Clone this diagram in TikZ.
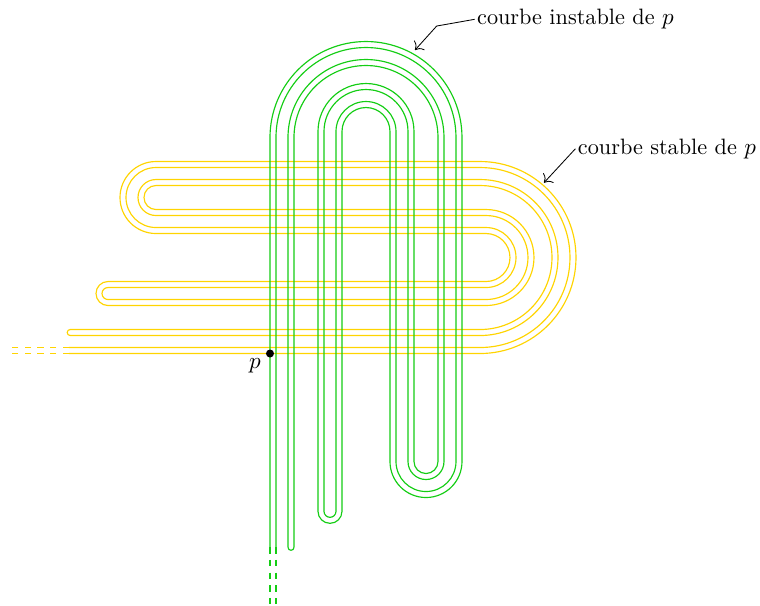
\documentclass[tikz,border=0pt]{standalone}
\usepackage{amsmath}
\usepackage{xcolor}
\usepackage{tikz}
\usetikzlibrary{arrows.meta}
\definecolor{vert}{RGB}{20,205,20}
\definecolor{jaune}{RGB}{255,212,0}
\tikzset{
  instable/.style={vert,line width=0.55pt},
  stable/.style={jaune,line width=0.55pt},
  pointer/.style={-{To[scale=1.3]},line width=0.4pt},
}

\begin{document}
\begin{tikzpicture}[x=1cm,y=1cm,font=\fontsize{10.55}{12.6}\selectfont]
  \useasboundingbox (-4.55,-4.242) rectangle (8.117,5.842);
  % courbe stable (jaune), two parallel strokes
  \foreach \s in {-1,1} {
    \draw[stable]
      (-3.4,{0.05*\s}) -- (3.45,{0.05*\s})
      arc[start angle=-90,end angle=90,radius={1.55-0.05*\s}]
      -- (-1.95,{3.1-0.05*\s})
      arc[start angle=90,end angle=270,radius={0.55-0.05*\s}]
      -- (3.55,{2.0+0.05*\s})
      arc[start angle=90,end angle=-90,radius={0.45+0.05*\s}]
      -- (-2.75,{1.1-0.05*\s})
      arc[start angle=90,end angle=270,radius={0.15-0.05*\s}]
      -- (3.55,{0.8+0.05*\s})
      arc[start angle=-90,end angle=90,radius={0.75-0.05*\s}]
      -- (-1.95,{2.3-0.05*\s})
      arc[start angle=270,end angle=90,radius={0.25+0.05*\s}]
      -- (3.45,{2.8+0.05*\s})
      arc[start angle=90,end angle=-90,radius={1.25+0.05*\s}]
      -- (-3.38,{0.3-0.05*\s});
    \draw[stable,line width=0.85pt,dashed] (-3.4,{0.05*\s}) -- (-4.38,{0.05*\s});
  }
  \draw[stable] (-3.38,0.35) arc[start angle=90,end angle=270,radius=0.05];
  % courbe instable (vert)
  \foreach \s in {-1,1} {
    \draw[instable]
      ({0.05*\s},-3.28) -- ({0.05*\s},3.55)
      arc[start angle=180,end angle=0,radius={1.55-0.05*\s}]
      -- ({3.1-0.05*\s},-1.85)
      arc[start angle=0,end angle=-180,radius={0.55-0.05*\s}]
      -- ({2.0+0.05*\s},3.65)
      arc[start angle=0,end angle=180,radius={0.45+0.05*\s}]
      -- ({1.1-0.05*\s},-2.68)
      arc[start angle=0,end angle=-180,radius={0.15-0.05*\s}]
      -- ({0.8+0.05*\s},3.65)
      arc[start angle=180,end angle=0,radius={0.75-0.05*\s}]
      -- ({2.3-0.05*\s},-1.85)
      arc[start angle=180,end angle=360,radius={0.25+0.05*\s}]
      -- ({2.8+0.05*\s},3.55)
      arc[start angle=0,end angle=180,radius={1.25+0.05*\s}]
      -- ({0.3-0.05*\s},-3.28);
    \draw[instable,dashed] ({0.05*\s},-3.28) -- ({0.05*\s},-4.25);
  }
  \draw[instable] (0.25,-3.28) arc[start angle=180,end angle=360,radius=0.05];
  % point fixe
  \node[circle,fill,inner sep=0pt,minimum size=3.8pt] (p) at (-0.05,-0.05) {};
  \node (plbl) at (-0.3,-0.26) {$p$};
  % labels
  \coordinate (tipU) at (2.367,5.008);
  \coordinate (tipS) at (4.517,2.797);
  \node[anchor=west,inner sep=1pt] (instlbl) at (3.36,5.52) {courbe instable de $p$};
  \node[anchor=west,inner sep=1pt] (stlbl) at (5.04,3.363) {courbe stable de $p$};
  \draw[pointer] (instlbl.west) -- (2.728,5.408) -- (tipU);
  \draw[pointer] (stlbl.west) -- (tipS);
\end{tikzpicture}
\end{document}
